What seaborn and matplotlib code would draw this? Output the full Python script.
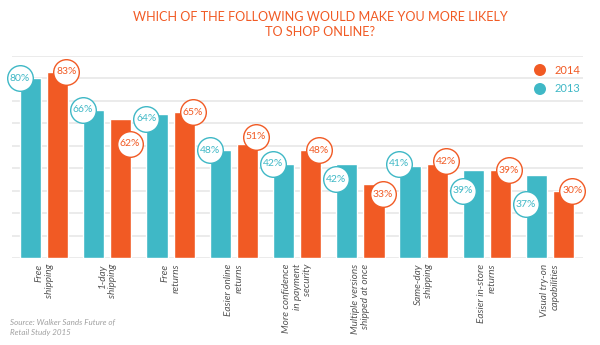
import matplotlib
matplotlib.use("Agg")
import matplotlib.pyplot as plt
import seaborn as sns
import pandas as pd

# ---- data ----
categories = ["Free\nshipping", "1-day\nshipping", "Free\nreturns", "Easier online\nreturns",
              "More confidence\nin payment\nsecurity", "Multiple versions\nshipped at once",
              "Same-day\nshipping", "Easier in-store\nreturns", "Visual try-on\ncapabilities"]
values_2013 = [80, 66, 64, 48, 42, 42, 41, 39, 37]
values_2014 = [83, 62, 65, 51, 48, 33, 42, 39, 30]
years = ["2013", "2014"]
title = "WHICH OF THE FOLLOWING WOULD MAKE YOU MORE LIKELY\nTO SHOP ONLINE?"
source = "Source: Walker Sands Future of\nRetail Study 2015"

# ---- layout (label circle shifts below bar top, in % units) ----
shift_2013 = [0, 0, 2, 0, 0, 7, -1, 9, 13]
shift_2014 = [0, 11, 0, -3, 0, 4.5, -1, 0, 0]

TEAL = "#3fb8c6"
ORANGE = "#f15a24"

sns.set_theme(style="white")
plt.rcParams["font.family"] = ["Lato", "DejaVu Sans"]

df = pd.DataFrame({
    "category": categories * 2,
    "year": [years[0]] * len(categories) + [years[1]] * len(categories),
    "value": values_2013 + values_2014,
})

fig = plt.figure(figsize=(6, 3.45), dpi=100)
ax = fig.add_axes([0.02, 0.2522, 0.9517, 0.5855])

sns.barplot(data=df, x="category", y="value", hue="year", hue_order=years,
            palette={years[0]: TEAL, years[1]: ORANGE}, order=categories,
            width=0.86, gap=0.22, saturation=1, legend=False, ax=ax, zorder=2)

ax.set_ylim(0, 90)
ax.set_xlim(-0.506, 8.52)
ax.set_yticks(range(0, 91, 10))
ax.set_yticklabels([])
ax.yaxis.grid(True, color="#ebebeb", linewidth=1.4, zorder=0)
ax.set_axisbelow(True)
for s in ax.spines.values():
    s.set_visible(False)
ax.set_xlabel("")
ax.set_ylabel("")
ax.tick_params(axis="both", length=0)
ax.tick_params(axis="x", pad=4)
ax.set_xticks(range(len(categories)))
ax.set_xticklabels(categories, rotation=90, fontsize=7.2, style="italic",
                   color="#555555", ha="center", va="top", linespacing=1.2)
for t in ax.get_xticklabels():
    t.set_multialignment("right")

# value circles
for cont, vals, shifts, color, side in [
    (ax.containers[0], values_2013, shift_2013, TEAL, "left"),
    (ax.containers[1], values_2014, shift_2014, ORANGE, "right"),
]:
    for bar, v, sh in zip(cont, vals, shifts):
        x = bar.get_x() if side == "left" else bar.get_x() + bar.get_width() - 0.03
        y = bar.get_height() - sh
        ax.scatter([x], [y], s=340, facecolor="white", edgecolor=color,
                   linewidth=1.0, zorder=5, clip_on=False)
        ax.text(x, y, f"{v}%", ha="center", va="center", color=color,
                fontsize=7.5, zorder=6)

# title
fig.text(320 / 600, 1 - 24.5 / 345, title, ha="center", va="center", color=ORANGE,
         fontsize=9.1, linespacing=1.35)

# legend
for yy, lab, col in [(1 - 70 / 345, years[1], ORANGE), (1 - 89 / 345, years[0], TEAL)]:
    fig.patches.append(matplotlib.patches.Ellipse((540 / 600, yy), 12 / 600, 12 / 345,
                                                  transform=fig.transFigure,
                                                  facecolor=col, edgecolor="none"))
    fig.text(555 / 600, yy, lab, ha="left", va="center", color=col, fontsize=8)

# source
fig.text(10 / 600, 1 - 327 / 345, source, ha="left", va="center", color="#a0a0a0",
         fontsize=5.8, style="italic", linespacing=1.55)

fig.savefig("out.png", dpi=100)
